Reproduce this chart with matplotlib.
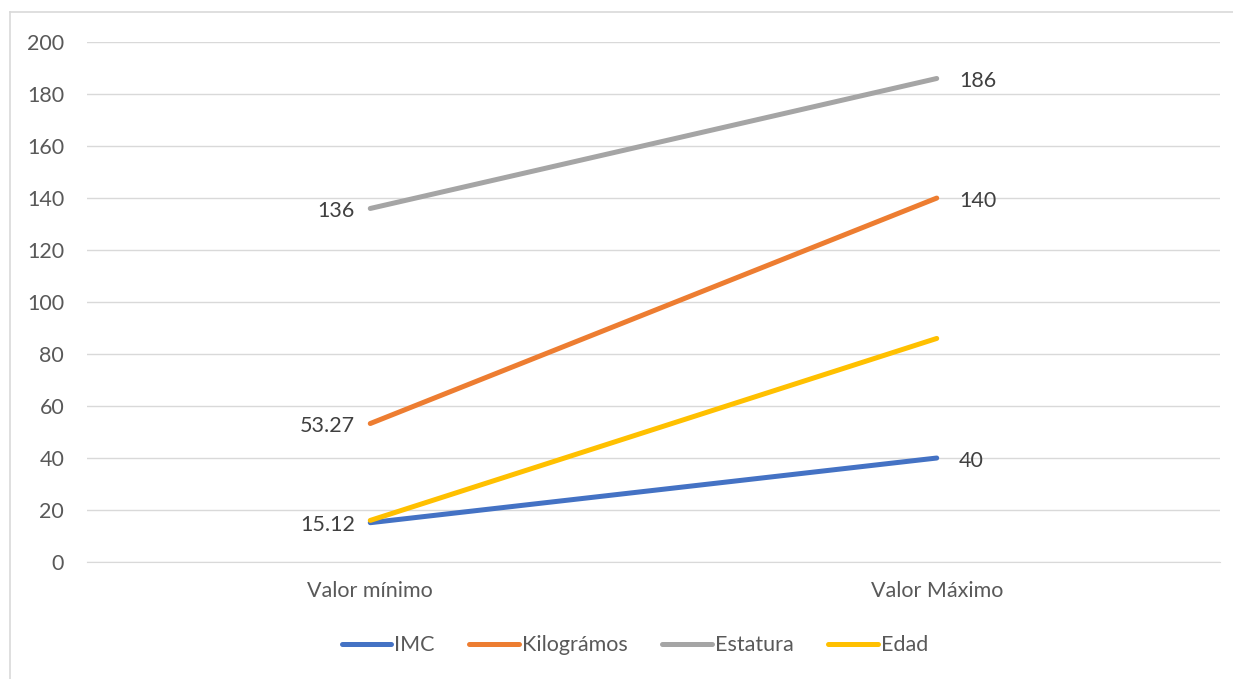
import matplotlib.pyplot as plt
from matplotlib.lines import Line2D

plt.rcParams['font.family'] = ['Lato', 'DejaVu Sans']

# data
categories = ["Valor mínimo", "Valor Máximo"]
series_names = ["IMC", "Kilográmos", "Estatura", "Edad"]
imc = [15.12, 40]
kilogramos = [53.27, 140]
estatura = [136, 186]
edad = [16, 86]
colors = ["#4472C4", "#ED7D31", "#A5A5A5", "#FFC000"]
# which series get data labels (min / max)
show_labels = [True, True, True, False]

TEXT = "#595959"
FS = 15.5

fig = plt.figure(figsize=(12.33, 6.79), dpi=100)
ax = fig.add_axes([0.0706, 0.1723, 0.9188, 0.7657])

x = [0, 1]
for name, vals, col, lab in zip(series_names, [imc, kilogramos, estatura, edad],
                                colors, show_labels):
    ax.plot(x, vals, color=col, lw=3.6, solid_capstyle="round", label=name, zorder=3)
    if lab:
        ax.annotate(f"{vals[0]:g}", (0, vals[0]), xytext=(-11, -2), textcoords="offset points",
                    ha="right", va="center", fontsize=FS, color="#404040")
        ax.annotate(f"{vals[1]:g}", (1, vals[1]), xytext=(16, -2), textcoords="offset points",
                    ha="left", va="center", fontsize=FS, color="#404040")

ax.set_xlim(-0.5, 1.5)
ax.set_ylim(0, 200)
ax.set_yticks(range(0, 201, 20))
ax.set_xticks(x)
ax.set_xticklabels(categories)
ax.tick_params(length=0, labelsize=FS, labelcolor=TEXT)
ax.tick_params(axis="x", pad=14)
ax.tick_params(axis="y", pad=16.5)
ax.grid(axis="y", color="#D9D9D9", lw=1)
ax.set_axisbelow(True)
for s in ["top", "right", "left"]:
    ax.spines[s].set_visible(False)
ax.spines["bottom"].set_color("#D9D9D9")

handles = [Line2D([0], [0], color=c, lw=3.6, solid_capstyle="round") for c in colors]
fig.legend(handles, series_names, loc="center", bbox_to_anchor=(0.515, 0.05), ncol=4,
           frameon=False, fontsize=FS, labelcolor=TEXT, handlelength=2.3,
           handletextpad=0.15, columnspacing=1.6)

# chart frame (left and top edges visible)
fig.add_artist(Line2D([10 / 1233, 10 / 1233], [0, 1 - 12 / 679], color="#D9D9D9", lw=1.2,
                      transform=fig.transFigure))
fig.add_artist(Line2D([10 / 1233, 1], [1 - 12 / 679, 1 - 12 / 679], color="#D9D9D9", lw=1.2,
                      transform=fig.transFigure))

fig.savefig("out.png", dpi=100)
